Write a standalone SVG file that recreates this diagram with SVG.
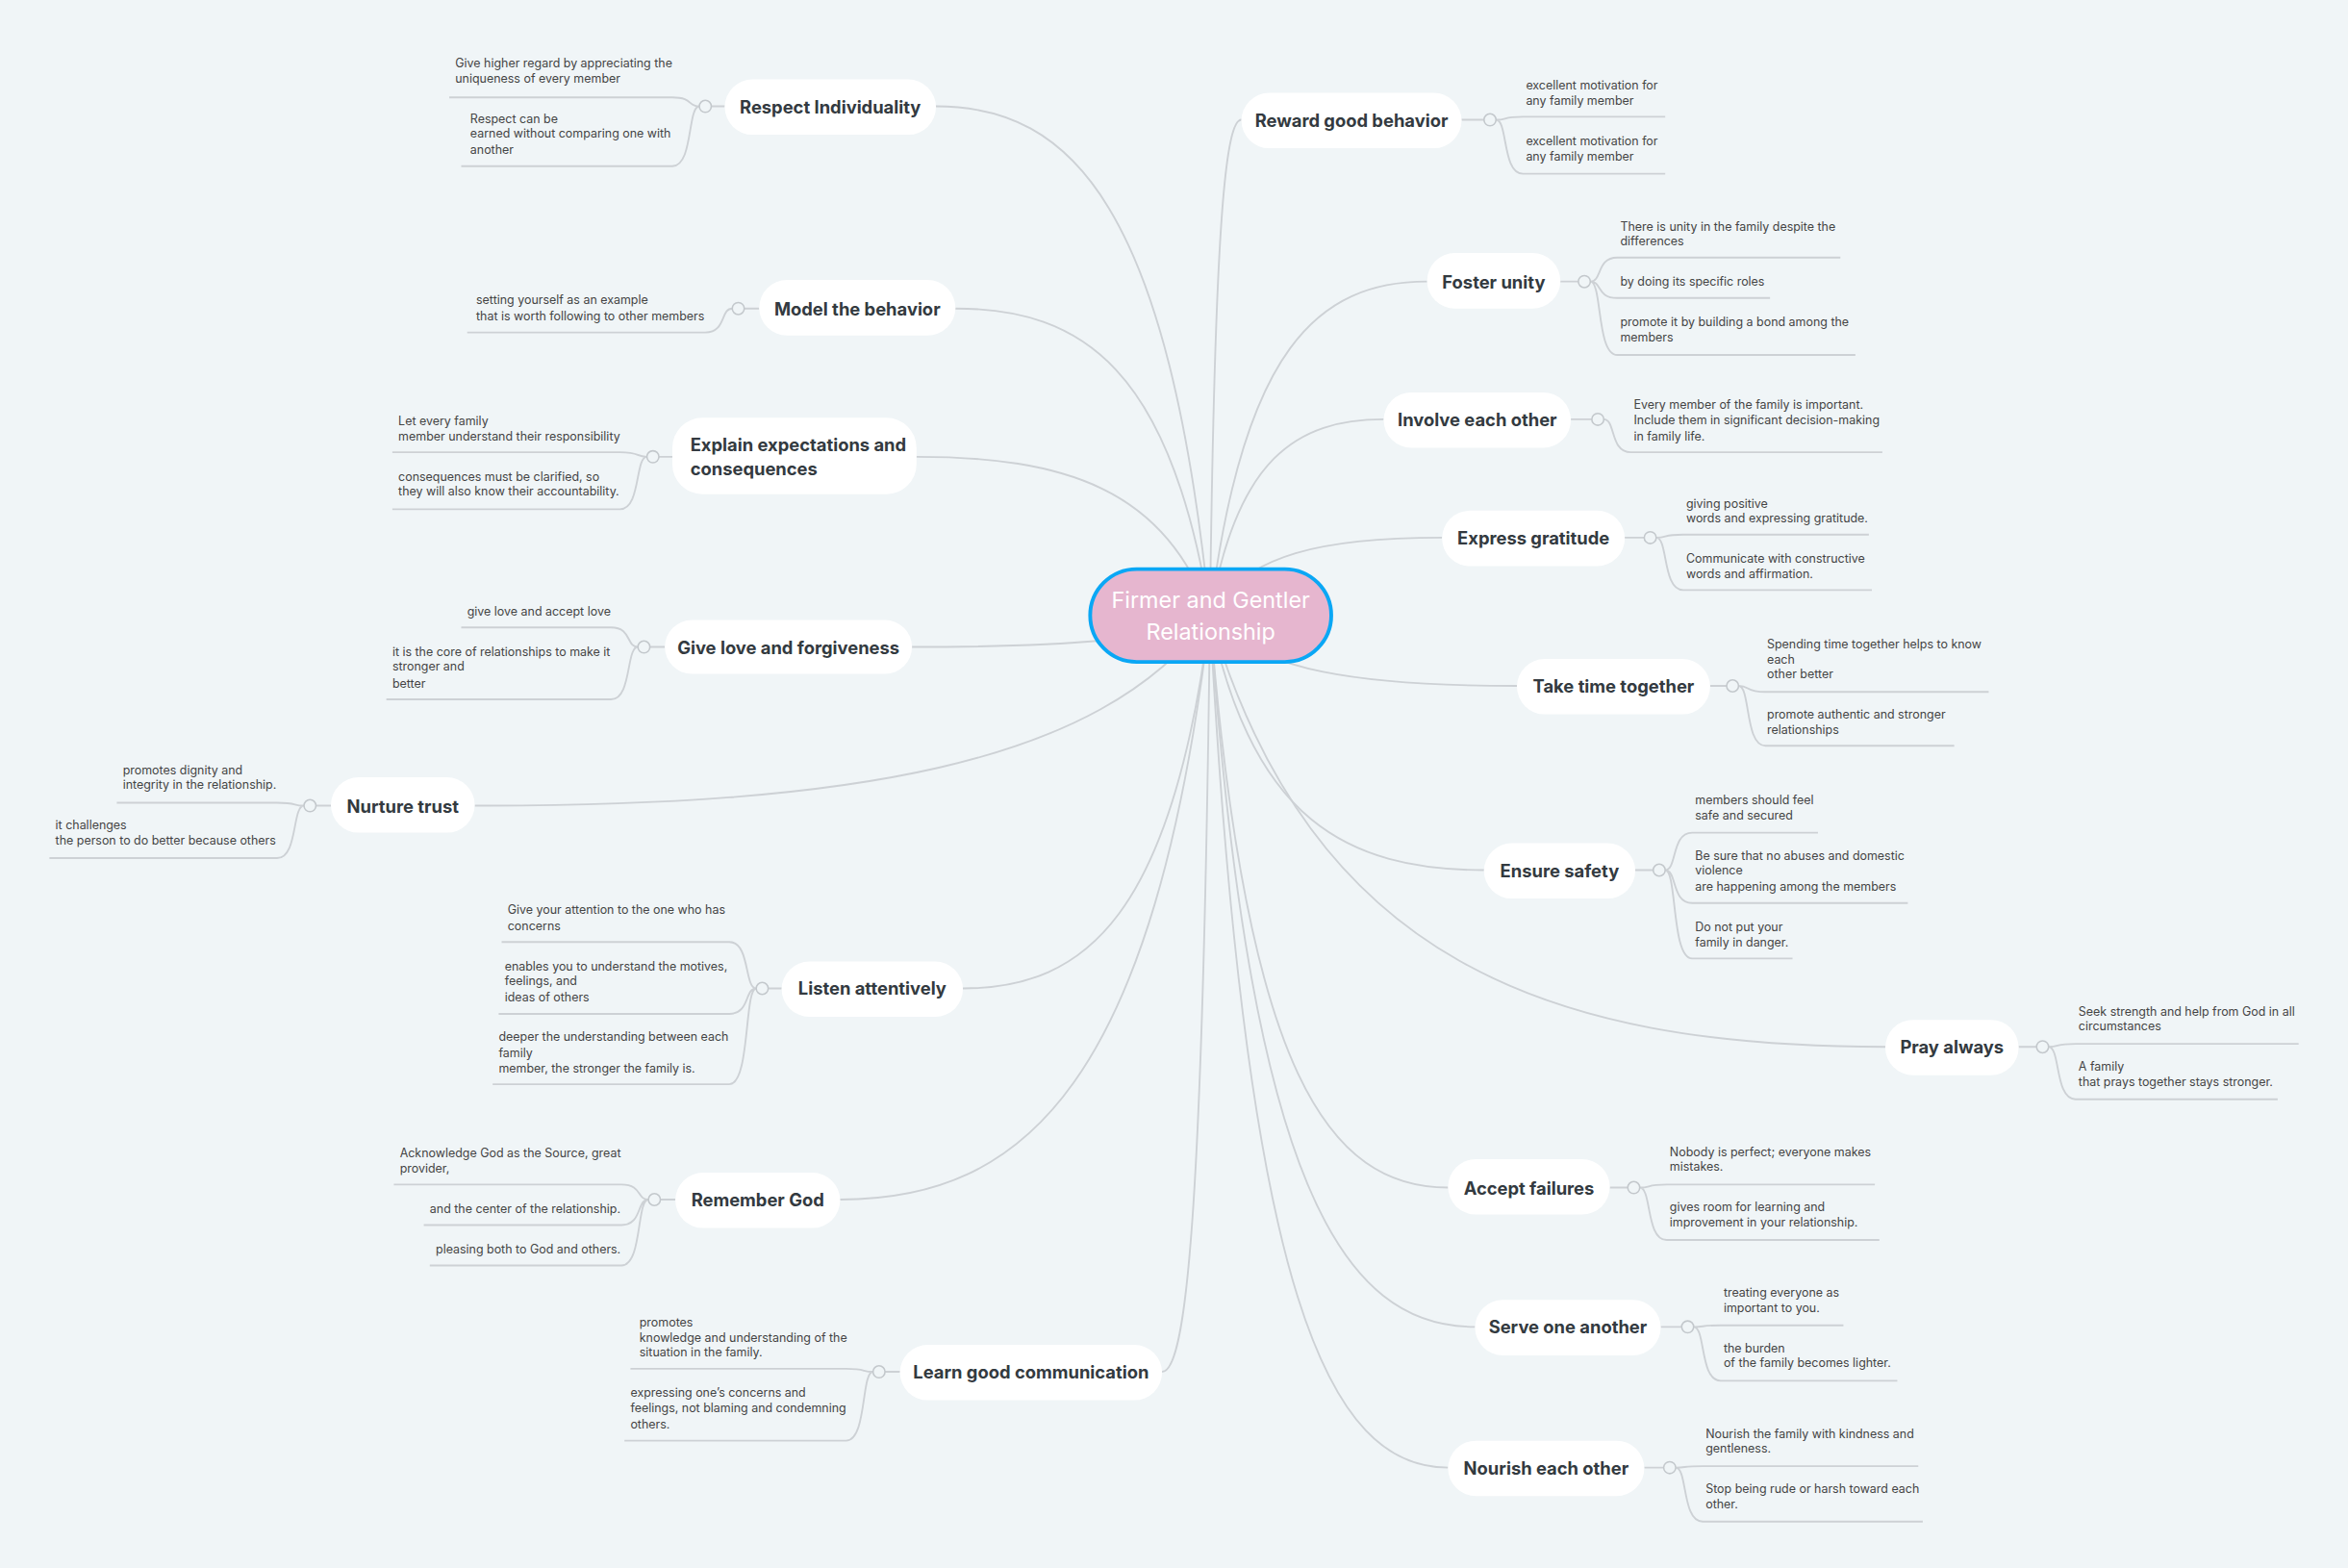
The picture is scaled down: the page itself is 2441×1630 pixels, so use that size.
<svg xmlns="http://www.w3.org/2000/svg" width="2441" height="1630" viewBox="0 0 2441 1630">
<style>
.c{fill:none;stroke:#cdd1d5;stroke-width:1.2}
.n rect{fill:#fff}
.n text{font-family:Inter,"Open Sans",sans-serif;font-weight:700;font-size:11.8px;fill:#333a40}
.l{font-family:Inter,"Open Sans",sans-serif;font-size:8px;fill:#444}
.j{fill:#f0f5f7;stroke:#c3c8cc;stroke-width:1}
</style>
<rect width="2441" height="1630" fill="#f0f5f7"/>
<g transform="scale(1.5568)">
<g id="connectors">
<path class="c" d="M808 411C780.5 139 716.5 71 625 71"/>
<path class="c" d="M808 411C782.5 247 723 206 638 206"/>
<path class="c" d="M808 411C778.6 326.2 710 305 612 305"/>
<path class="c" d="M808 411C778.2 427.8 708.5 432 609 432"/>
<path class="c" d="M808 411C734.4 512.6 562.5 538 317 538"/>
<path class="c" d="M808 411C783.2 610.2 725.5 660 643 660"/>
<path class="c" d="M808 411C771 723 684.5 801 561 801"/>
<path class="c" d="M808 411C803.2 815 792 916 776 916"/>
<path class="c" d="M808 411C811.2 146.2 818.5 80 829 80"/>
<path class="c" d="M808 411C829.8 232.6 880.5 188 953 188"/>
<path class="c" d="M808 411C825.4 306.2 866 280 924 280"/>
<path class="c" d="M808 411C831.2 369.4 885.5 359 963 359"/>
<path class="c" d="M808 411C838.8 448.6 910.5 458 1013 458"/>
<path class="c" d="M808 411C835.5 547 899.5 581 991 581"/>
<path class="c" d="M808 411C875.6 641.4 1033.5 699 1259 699"/>
<path class="c" d="M808 411C831.9 716.6 887.5 793 967 793"/>
<path class="c" d="M808 411C834.6 791 896.5 886 985 886"/>
<path class="c" d="M808 411C831.9 866.2 887.5 980 967 980"/>
<path class="c" d="M484 71H475M467 71C459 71 463 65 449 65H300M467 71C459 71 463 111 449 111H308"/>
<path class="c" d="M507 206H497M489 206C481 206 485 222 471 222H312"/>
<path class="c" d="M449 305H440M432 305C424 305 428 302 414 302H262M432 305C424 305 428 340 414 340H262"/>
<path class="c" d="M444 432H434M426 432C418 432 422 419 408 419H308M426 432C418 432 422 467 408 467H258"/>
<path class="c" d="M221 538H211M203 538C195 538 199 536 185 536H78M203 538C195 538 199 573 185 573H33"/>
<path class="c" d="M522 660H513M505 660C497 660 501 629 487 629H335M505 660C497 660 501 677 487 677H333M505 660C497 660 501 724 487 724H329"/>
<path class="c" d="M451 801H441M433 801C425 801 429 791 415 791H263M433 801C425 801 429 818 415 818H283M433 801C425 801 429 845 415 845H287"/>
<path class="c" d="M601 916H591M583 916C575 916 579 914 565 914H421M583 916C575 916 579 962 565 962H417"/>
<path class="c" d="M976 80H991M999 80C1007 80 1003 78 1017 78H1112M999 80C1007 80 1003 116 1017 116H1112"/>
<path class="c" d="M1042 188H1054M1062 188C1070 188 1066 172 1080 172H1229M1062 188C1070 188 1066 199 1080 199H1182M1062 188C1070 188 1066 237 1080 237H1239"/>
<path class="c" d="M1049 280H1063M1071 280C1079 280 1075 302 1089 302H1257"/>
<path class="c" d="M1085 359H1098M1106 359C1114 359 1110 357 1124 357H1248M1106 359C1114 359 1110 394 1124 394H1250"/>
<path class="c" d="M1142 458H1153M1161 458C1169 458 1165 462 1179 462H1328M1161 458C1169 458 1165 498 1179 498H1305"/>
<path class="c" d="M1092 581H1104M1112 581C1120 581 1116 556 1130 556H1214M1112 581C1120 581 1116 603 1130 603H1274M1112 581C1120 581 1116 640 1130 640H1197"/>
<path class="c" d="M1348 699H1360M1368 699C1376 699 1372 697 1386 697H1535M1368 699C1376 699 1372 734 1386 734H1521"/>
<path class="c" d="M1075 793H1087M1095 793C1103 793 1099 791 1113 791H1252M1095 793C1103 793 1099 828 1113 828H1255"/>
<path class="c" d="M1109 886H1123M1131 886C1139 886 1135 885 1149 885H1231M1131 886C1139 886 1135 922 1149 922H1267"/>
<path class="c" d="M1098 980H1111M1119 980C1127 980 1123 979 1137 979H1281M1119 980C1127 980 1123 1016 1137 1016H1284"/>
</g>
<g id="junctions">
<circle class="j" cx="471" cy="71" r="4"/><circle class="j" cx="493" cy="206" r="4"/><circle class="j" cx="436" cy="305" r="4"/><circle class="j" cx="430" cy="432" r="4"/><circle class="j" cx="207" cy="538" r="4"/><circle class="j" cx="509" cy="660" r="4"/><circle class="j" cx="437" cy="801" r="4"/><circle class="j" cx="587" cy="916" r="4"/>
<circle class="j" cx="995" cy="80" r="4"/><circle class="j" cx="1058" cy="188" r="4"/><circle class="j" cx="1067" cy="280" r="4"/><circle class="j" cx="1102" cy="359" r="4"/><circle class="j" cx="1157" cy="458" r="4"/><circle class="j" cx="1108" cy="581" r="4"/><circle class="j" cx="1364" cy="699" r="4"/><circle class="j" cx="1091" cy="793" r="4"/><circle class="j" cx="1127" cy="886" r="4"/><circle class="j" cx="1115" cy="980" r="4"/>
</g>
<g id="center">
<rect x="728" y="380" width="161" height="62" rx="31" fill="#e6b6cf" stroke="#0aa7f5" stroke-width="2.5"/>
<text x="808.5" y="406" font-family="Inter,'Open Sans',sans-serif" font-size="15" fill="#fff" text-anchor="middle">Firmer and Gentler</text>
<text x="808.5" y="427" font-family="Inter,'Open Sans',sans-serif" font-size="15" fill="#fff" text-anchor="middle">Relationship</text>
</g>
<g id="n1" class="n"><rect x="484" y="53" width="141" height="37" rx="18.5"/><text x="554.5" y="75.5" text-anchor="middle">Respect Individuality</text></g>
<g id="n2" class="n"><rect x="507" y="187" width="131" height="37" rx="18.5"/><text x="572.5" y="210.5" text-anchor="middle">Model the behavior</text></g>
<g id="n3" class="n"><rect x="449" y="279" width="163" height="51" rx="20"/><text x="461" y="301">Explain expectations and</text><text x="461" y="317">consequences</text></g>
<g id="n4" class="n"><rect x="444" y="414" width="165" height="36" rx="18"/><text x="526.5" y="436.5" text-anchor="middle">Give love and forgiveness</text></g>
<g id="n5" class="n"><rect x="221" y="519" width="96" height="37" rx="18.5"/><text x="269" y="542.5" text-anchor="middle">Nurture trust</text></g>
<g id="n6" class="n"><rect x="522" y="642" width="121" height="37" rx="18.5"/><text x="582.5" y="664.5" text-anchor="middle">Listen attentively</text></g>
<g id="n7" class="n"><rect x="451" y="783" width="110" height="37" rx="18.5"/><text x="506" y="805.5" text-anchor="middle">Remember God</text></g>
<g id="n8" class="n"><rect x="601" y="898" width="175" height="37" rx="18.5"/><text x="688.5" y="920.5" text-anchor="middle">Learn good communication</text></g>
<g id="n9" class="n"><rect x="829" y="62" width="147" height="37" rx="18.5"/><text x="902.5" y="84.5" text-anchor="middle">Reward good behavior</text></g>
<g id="n10" class="n"><rect x="953" y="169" width="89" height="37" rx="18.5"/><text x="997.5" y="192.5" text-anchor="middle">Foster unity</text></g>
<g id="n11" class="n"><rect x="924" y="262" width="125" height="37" rx="18.5"/><text x="986.5" y="284.5" text-anchor="middle">Involve each other</text></g>
<g id="n12" class="n"><rect x="963" y="341" width="122" height="37" rx="18.5"/><text x="1024" y="363.5" text-anchor="middle">Express gratitude</text></g>
<g id="n13" class="n"><rect x="1013" y="440" width="129" height="37" rx="18.5"/><text x="1077.5" y="462.5" text-anchor="middle">Take time together</text></g>
<g id="n14" class="n"><rect x="991" y="563" width="101" height="37" rx="18.5"/><text x="1041.5" y="585.5" text-anchor="middle">Ensure safety</text></g>
<g id="n15" class="n"><rect x="1259" y="681" width="89" height="37" rx="18.5"/><text x="1303.5" y="703.5" text-anchor="middle">Pray always</text></g>
<g id="n16" class="n"><rect x="967" y="774" width="108" height="37" rx="18.5"/><text x="1021" y="797.5" text-anchor="middle">Accept failures</text></g>
<g id="n17" class="n"><rect x="985" y="868" width="124" height="37" rx="18.5"/><text x="1047" y="890.5" text-anchor="middle">Serve one another</text></g>
<g id="n18" class="n"><rect x="967" y="962" width="131" height="37" rx="18.5"/><text x="1032.5" y="984.5" text-anchor="middle">Nourish each other</text></g>
<g id="leaves" class="l">
<text x="304" y="45">Give higher regard by appreciating the</text><text x="304" y="55">uniqueness of every member</text>
<text x="314" y="82">Respect can be</text><text x="314" y="92">earned without comparing one with</text><text x="314" y="103">another</text>
<text x="318" y="203">setting yourself as an example</text><text x="318" y="214">that is worth following to other members</text>
<text x="266" y="284">Let every family</text><text x="266" y="294">member understand their responsibility</text>
<text x="266" y="321">consequences must be clarified, so</text><text x="266" y="331">they will also know their accountability.</text>
<text x="312" y="411">give love and accept love</text>
<text x="262" y="438">it is the core of relationships to make it</text><text x="262" y="448">stronger and</text><text x="262" y="459">better</text>
<text x="82" y="517">promotes dignity and</text><text x="82" y="527">integrity in the relationship.</text>
<text x="37" y="554">it challenges</text><text x="37" y="564">the person to do better because others</text>
<text x="339" y="610">Give your attention to the one who has</text><text x="339" y="621">concerns</text>
<text x="337" y="648">enables you to understand the motives,</text><text x="337" y="658">feelings, and</text><text x="337" y="669">ideas of others</text>
<text x="333" y="695">deeper the understanding between each</text><text x="333" y="706">family</text><text x="333" y="716">member, the stronger the family is.</text>
<text x="267" y="773">Acknowledge God as the Source, great</text><text x="267" y="783">provider,</text>
<text x="287" y="810">and the center of the relationship.</text>
<text x="291" y="837">pleasing both to God and others.</text>
<text x="427" y="886">promotes</text><text x="427" y="896">knowledge and understanding of the</text><text x="427" y="906">situation in the family.</text>
<text x="421" y="933">expressing one’s concerns and</text><text x="421" y="943">feelings, not blaming and condemning</text><text x="421" y="954">others.</text>
<text x="1019" y="60">excellent motivation for</text><text x="1019" y="70">any family member</text>
<text x="1019" y="97">excellent motivation for</text><text x="1019" y="107">any family member</text>
<text x="1082" y="154">There is unity in the family despite the</text><text x="1082" y="164">differences</text>
<text x="1082" y="191">by doing its specific roles</text>
<text x="1082" y="218">promote it by building a bond among the</text><text x="1082" y="228">members</text>
<text x="1091" y="273">Every member of the family is important.</text><text x="1091" y="283">Include them in significant decision-making</text><text x="1091" y="294">in family life.</text>
<text x="1126" y="339">giving positive</text><text x="1126" y="349">words and expressing gratitude.</text>
<text x="1126" y="376">Communicate with constructive</text><text x="1126" y="386">words and affirmation.</text>
<text x="1180" y="433">Spending time together helps to know</text><text x="1180" y="443">each</text><text x="1180" y="453">other better</text>
<text x="1180" y="480">promote authentic and stronger</text><text x="1180" y="490">relationships</text>
<text x="1132" y="537">members should feel</text><text x="1132" y="547">safe and secured</text>
<text x="1132" y="574">Be sure that no abuses and domestic</text><text x="1132" y="584">violence</text><text x="1132" y="595">are happening among the members</text>
<text x="1132" y="622">Do not put your</text><text x="1132" y="632">family in danger.</text>
<text x="1388" y="678">Seek strength and help from God in all</text><text x="1388" y="688">circumstances</text>
<text x="1388" y="715">A family</text><text x="1388" y="725">that prays together stays stronger.</text>
<text x="1115" y="772">Nobody is perfect; everyone makes</text><text x="1115" y="782">mistakes.</text>
<text x="1115" y="809">gives room for learning and</text><text x="1115" y="819">improvement in your relationship.</text>
<text x="1151" y="866">treating everyone as</text><text x="1151" y="876">important to you.</text>
<text x="1151" y="903">the burden</text><text x="1151" y="913">of the family becomes lighter.</text>
<text x="1139" y="960">Nourish the family with kindness and</text><text x="1139" y="970">gentleness.</text>
<text x="1139" y="997">Stop being rude or harsh toward each</text><text x="1139" y="1007">other.</text>
</g>
</g>
</svg>
